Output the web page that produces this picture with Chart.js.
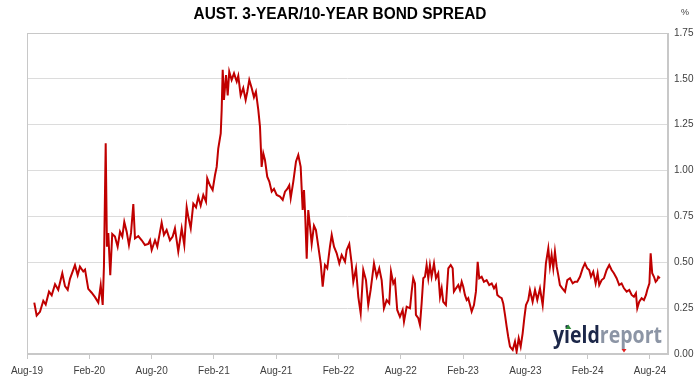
<!DOCTYPE html>
<html><head><meta charset="utf-8">
<script src="https://cdn.jsdelivr.net/npm/chart.js@4.4.1/dist/chart.umd.min.js"></script>
<style>html,body{margin:0;padding:0;background:#fff;}#wrap{width:700px;height:386px;}</style>
</head><body><div id="wrap"><canvas id="c" width="700" height="386"></canvas></div>
<script>
const chartTitle = 'AUST. 3-YEAR/10-YEAR BOND SPREAD';
const unitLabel = '%';
const tickMonths = [0, 6, 12, 18, 24, 30, 36, 42, 48, 54, 60];
const tickLabels = ['Aug-19','Feb-20','Aug-20','Feb-21','Aug-21','Feb-22','Aug-22','Feb-23','Aug-23','Feb-24','Aug-24'];
const yTicks = [0, 0.25, 0.5, 0.75, 1.0, 1.25, 1.5, 1.75];
// months elapsed since 1 Aug 2019
const months = [
0.70,0.93,1.25,1.57,1.80,2.12,2.38,2.70,3.01,3.40,3.66,3.92,4.14,4.62,4.88,5.10,5.42,5.59,5.90,6.23,
6.55,6.87,7.10,7.29,7.41,7.58,7.70,7.83,8.02,8.21,8.47,8.73,8.96,9.18,9.37,9.60,9.82,10.02,10.24,10.40,
10.72,11.05,11.36,11.68,11.85,12.01,12.33,12.55,12.97,13.19,13.45,13.77,14.03,14.25,14.57,14.90,15.15,15.38,15.53,15.77,
16.02,16.28,16.50,16.73,16.98,17.24,17.36,17.62,17.88,18.11,18.27,18.42,18.66,18.75,18.85,18.97,19.17,19.33,19.48,19.71,
19.94,20.20,20.35,20.58,20.83,21.06,21.22,21.41,21.64,21.86,22.05,22.28,22.44,22.60,22.76,22.92,23.14,23.34,23.57,23.79,
24.05,24.37,24.63,24.85,25.07,25.26,25.40,25.65,25.91,26.13,26.36,26.55,26.68,26.80,26.94,27.09,27.26,27.42,27.64,27.83,
28.06,28.29,28.48,28.70,28.92,29.18,29.35,29.57,29.83,30.08,30.31,30.63,30.79,31.04,31.27,31.43,31.69,31.91,32.14,32.39,
32.65,32.87,33.10,33.42,33.68,33.93,34.16,34.38,34.64,34.89,35.06,35.28,35.44,35.66,35.92,36.18,36.31,36.57,36.89,37.05,
37.20,37.37,37.46,37.69,37.85,38.01,38.17,38.33,38.49,38.65,38.81,38.97,39.20,39.39,39.61,39.78,39.94,40.09,40.35,40.58,
40.81,41.00,41.12,41.32,41.54,41.70,41.87,42.02,42.18,42.35,42.50,42.67,42.83,43.05,43.24,43.41,43.56,43.79,44.01,44.27,
44.52,44.76,44.98,45.17,45.30,45.49,45.72,45.87,46.04,46.20,46.35,46.52,46.78,47.00,47.16,47.36,47.55,47.74,47.90,48.06,
48.28,48.44,48.70,48.93,49.15,49.41,49.67,49.82,49.98,50.21,50.37,50.53,50.69,50.85,51.02,51.17,51.33,51.56,51.82,52.04,
52.30,52.56,52.78,53.00,53.26,53.52,53.74,53.96,54.15,54.32,54.54,54.77,54.96,55.12,55.35,55.57,55.83,56.08,56.31,56.53,
56.79,57.04,57.27,57.50,57.76,58.01,58.24,58.46,58.65,58.78,58.97,59.20,59.42,59.62,59.74,59.95,60.07,60.22,60.39,60.55,
60.70,60.80,60.96
];
const spread = [
0.28,0.21,0.23,0.29,0.27,0.34,0.32,0.38,0.35,0.44,0.37,0.35,0.41,0.485,0.43,0.476,0.45,0.46,0.355,0.334,
0.31,0.28,0.376,0.267,0.476,1.149,0.585,0.66,0.43,0.654,0.64,0.585,0.667,0.64,0.72,0.667,0.594,0.66,0.818,0.63,
0.643,0.62,0.594,0.60,0.62,0.567,0.62,0.585,0.716,0.65,0.676,0.62,0.64,0.685,0.558,0.685,0.594,0.80,0.75,0.685,
0.82,0.80,0.858,0.81,0.867,0.83,0.958,0.92,0.894,0.976,1.02,1.12,1.203,1.33,1.549,1.385,1.52,1.41,1.54,1.494,
1.53,1.485,1.516,1.41,1.45,1.385,1.43,1.494,1.45,1.40,1.43,1.33,1.24,1.02,1.094,1.058,0.967,0.94,0.885,0.90,
0.867,0.858,0.84,0.885,0.90,0.92,0.85,0.94,1.05,1.085,1.02,0.785,0.894,0.75,0.52,0.785,0.694,0.60,0.70,0.676,
0.585,0.494,0.367,0.485,0.467,0.585,0.649,0.585,0.549,0.494,0.54,0.503,0.567,0.60,0.494,0.394,0.467,0.312,0.222,0.458,
0.403,0.267,0.349,0.494,0.421,0.467,0.403,0.249,0.294,0.276,0.449,0.385,0.403,0.24,0.203,0.24,0.176,0.258,0.249,0.34,
0.413,0.385,0.213,0.195,0.158,0.276,0.413,0.421,0.485,0.413,0.485,0.421,0.494,0.413,0.44,0.312,0.358,0.285,0.267,0.467,
0.485,0.467,0.34,0.358,0.376,0.349,0.394,0.367,0.322,0.294,0.304,0.267,0.231,0.267,0.34,0.503,0.413,0.421,0.394,0.403,
0.376,0.385,0.358,0.376,0.322,0.312,0.304,0.276,0.213,0.149,0.094,0.04,0.022,0.067,0.013,0.086,0.04,0.113,0.195,0.267,
0.294,0.349,0.285,0.349,0.294,0.358,0.267,0.367,0.494,0.576,0.476,0.54,0.467,0.558,0.476,0.43,0.376,0.358,0.34,0.403,
0.413,0.385,0.394,0.394,0.421,0.467,0.494,0.467,0.458,0.421,0.449,0.385,0.44,0.376,0.403,0.413,0.458,0.485,0.458,0.44,
0.413,0.376,0.385,0.358,0.34,0.349,0.322,0.312,0.331,0.249,0.285,0.304,0.294,0.322,0.349,0.385,0.549,0.44,0.421,0.394,
0.403,0.421,0.413
];

const FONT = "'Liberation Sans', Arial, sans-serif";
const deco = {
  id: 'deco',
  beforeDatasetsDraw(chart) {
    const {ctx, chartArea: a} = chart;
    ctx.save();
    ctx.strokeStyle = '#c8c8c8';
    ctx.lineWidth = 1;
    const l = Math.round(a.left) + 0.5, t = Math.round(a.top) + 0.5;
    const r = Math.round(a.right) - 0.5, b = Math.round(a.bottom) - 0.5;
    ctx.strokeRect(l, t, r - l, b - t);
    ctx.restore();
  },
  afterDraw(chart) {
    const ctx = chart.ctx;
    ctx.save();
    // title
    ctx.fillStyle = '#000';
    ctx.font = 'bold 16px ' + FONT;
    const w16 = ctx.measureText(chartTitle).width;
    ctx.textAlign = 'center';
    ctx.textBaseline = 'middle';
    ctx.translate(340, 15);
    ctx.scale(293 / w16, 1);
    ctx.fillText(chartTitle, 0, 0);
    ctx.setTransform(1, 0, 0, 1, 0, 0);
    // unit
    ctx.font = '9px ' + FONT;
    ctx.fillStyle = '#404040';
    ctx.fillText(unitLabel, 685, 13);
    // logo
    const p1 = 'yield', p2 = 'report';
    ctx.font = 'bold 24px "Open Sans", ' + FONT;
    const w1 = ctx.measureText(p1).width, w2 = ctx.measureText(p2).width;
    const k = 109 / (w1 + w2);
    ctx.translate(553, 343);
    ctx.scale(k, 1);
    ctx.textAlign = 'left';
    ctx.textBaseline = 'alphabetic';
    ctx.fillStyle = '#1c2749';
    ctx.fillText(p1, 0, 0);
    ctx.fillStyle = '#8c95a5';
    ctx.fillText(p2, w1, 0);
    ctx.setTransform(1, 0, 0, 1, 0, 0);
    ctx.fillStyle = '#2e8b3a';
    ctx.beginPath(); ctx.moveTo(568.3, 324.5); ctx.lineTo(571.3, 329); ctx.lineTo(565.3, 329); ctx.closePath(); ctx.fill();
    ctx.fillStyle = '#e02020';
    ctx.beginPath(); ctx.moveTo(621.5, 349); ctx.lineTo(626.5, 349); ctx.lineTo(624, 352.5); ctx.closePath(); ctx.fill();
    ctx.restore();
  }
};

new Chart(document.getElementById('c'), {
  type: 'line',
  data: {
    datasets: [{
      data: months.map((m, i) => ({x: m, y: spread[i]})),
      borderColor: '#c00000',
      borderWidth: 2,
      pointRadius: 0,
      tension: 0,
      fill: false
    }]
  },
  options: {
    responsive: false,
    animation: false,
    devicePixelRatio: 1,
    layout: {padding: {left: 27, top: 33, right: 0, bottom: 0}},
    plugins: {legend: {display: false}, tooltip: {enabled: false}, title: {display: false}},
    scales: {
      x: {
        type: 'linear', min: 0, max: 61.74,
        afterBuildTicks: s => { s.ticks = tickMonths.map(v => ({value: v})); },
        afterFit: s => { s.height = 32; },
        ticks: {
          autoSkip: false, maxRotation: 0, minRotation: 0, padding: 6,
          color: '#404040', font: {family: FONT, size: 10},
          callback: v => tickLabels[tickMonths.indexOf(v)]
        },
        grid: {drawOnChartArea: false, drawTicks: true, tickLength: 5, color: '#c8c8c8'},
        border: {color: '#c8c8c8'}
      },
      y: {
        position: 'right', min: 0, max: 1.75,
        afterBuildTicks: s => { s.ticks = yTicks.map(v => ({value: v})); },
        afterFit: s => { s.width = 32; },
        ticks: {
          padding: 6, color: '#404040', font: {family: FONT, size: 10},
          callback: v => Number(v).toFixed(2)
        },
        grid: {color: '#dcdcdc', drawTicks: false},
        border: {color: '#c8c8c8'}
      }
    }
  },
  plugins: [deco]
});
</script>
</body></html>
